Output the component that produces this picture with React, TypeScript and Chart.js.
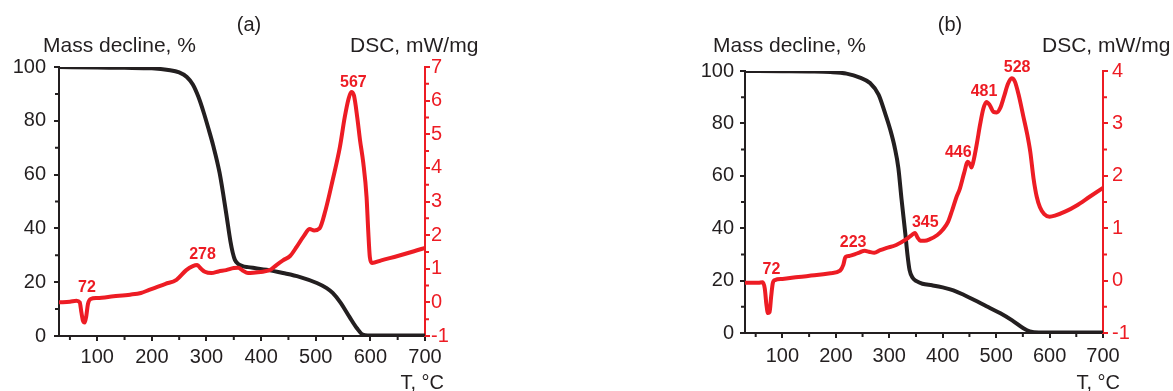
import { useEffect, useRef } from 'react';
import { Chart, registerables } from 'chart.js';

Chart.register(...registerables);

// ---------------- data ----------------
const T_MIN = 30;
const T_MAX = 700;
const T_STEP = 100;
const MASS_MIN = 0;
const MASS_MAX = 100;
const MASS_STEP = 20;
const DSC_STEP = 1;

const massAxisTitle = 'Mass decline, %';
const dscAxisTitle = 'DSC, mW/mg';
const tempAxisTitle = 'T, °C';

// Panel (a)
const panelTitleA = '(a)';
const tgTempA = [30, 100, 150, 200, 230, 250, 264, 275, 285, 295, 303, 312, 324, 336, 344, 348, 352, 358, 366, 376, 390, 410, 440, 470, 502, 520, 531, 545, 562, 575, 586, 595, 650, 700];
const tgMassA = [100, 99.8, 99.7, 99.5, 98.9, 98.0, 96.3, 93.5, 89, 83, 77.5, 71, 60.6, 45.7, 35, 31, 28.3, 26.8, 26.0, 25.6, 25.2, 24.6, 23.4, 22, 19.7, 17.8, 16, 12.5, 7, 3, 0.5, 0.2, 0.2, 0.2];
const dscTempA = [30, 50, 62, 68, 71, 74, 77, 80, 83, 88, 100, 130, 160, 180, 195, 210, 225, 245, 263, 275, 283, 290, 297, 309, 322, 336, 350, 358, 366, 376, 390, 403, 418, 428, 440, 453, 465, 478, 489, 497, 507, 518, 531, 544, 553, 560, 565, 570, 576, 581, 587, 593, 596, 599, 603, 620, 650, 680, 700];
const dscValA = [0.0, 0.02, 0.05, 0.0, -0.3, -0.55, -0.6, -0.4, -0.05, 0.1, 0.13, 0.18, 0.23, 0.28, 0.37, 0.46, 0.55, 0.67, 0.96, 1.08, 1.11, 1.0, 0.91, 0.87, 0.92, 0.96, 1.02, 1.03, 0.95, 0.87, 0.89, 0.91, 0.98, 1.11, 1.25, 1.38, 1.65, 1.97, 2.18, 2.14, 2.2, 2.75, 3.64, 4.6, 5.5, 6.05, 6.26, 6.15, 5.5, 4.83, 4.15, 3.14, 2.15, 1.35, 1.17, 1.25, 1.38, 1.52, 1.62];
const dscMinA = -1;
const dscMaxA = 7;
const peakTempA = [72, 278, 567];
const peakTextA = ['72', '278', '567'];
const peakWindowA = [20, 15, 8];

// Panel (b)
const panelTitleB = '(b)';
const tgTempB = [30, 100, 150, 190, 220, 245, 264, 280, 292, 302, 310, 317, 323, 330, 334, 338, 344, 351, 362, 380, 400, 420, 440, 465, 485, 508, 530, 551, 563, 580, 700];
const tgMassB = [100, 99.9, 99.8, 99.6, 99, 97.5, 95.4, 91, 84, 77.5, 71, 63, 51, 38, 30, 24, 21, 19.8, 18.8, 18.2, 17.4, 16.3, 14.5, 12, 9.9, 7.5, 4.8, 1.8, 0.6, 0.2, 0.2];
const dscTempB = [30, 55, 63, 67, 70, 73, 76, 79, 82, 86, 100, 130, 160, 190, 208, 214, 218, 225, 232, 245, 254, 262, 272, 283, 294, 313, 332, 342, 348, 353, 358, 366, 376, 390, 400, 410, 418, 426, 432, 440, 447, 451, 454, 458, 464, 470, 476, 482, 488, 495, 501, 508, 515, 522, 529, 535, 542, 551, 558, 564, 570, 576, 582, 590, 600, 610, 630, 650, 675, 700];
const dscValB = [-0.04, -0.04, -0.03, -0.15, -0.45, -0.62, -0.6, -0.3, -0.05, 0.01, 0.03, 0.07, 0.1, 0.14, 0.19, 0.3, 0.45, 0.47, 0.49, 0.54, 0.57, 0.55, 0.53, 0.58, 0.62, 0.68, 0.79, 0.87, 0.91, 0.82, 0.76, 0.76, 0.79, 0.87, 0.97, 1.12, 1.35, 1.6, 1.75, 2.05, 2.27, 2.22, 2.16, 2.3, 2.62, 2.98, 3.28, 3.41, 3.35, 3.22, 3.21, 3.3, 3.52, 3.75, 3.86, 3.8, 3.55, 3.13, 2.8, 2.45, 1.95, 1.6, 1.4, 1.27, 1.22, 1.24, 1.32, 1.43, 1.6, 1.77];
const dscMinB = -1;
const dscMaxB = 4;
const peakTempB = [72, 223, 345, 446, 481, 528];
const peakTextB = ['72', '223', '345', '446', '481', '528'];
const peakWindowB = [20, 20, 15, 6, 6, 6];

// ---------------- style / layout ----------------
const RED = '#ED1C24';
const INK = '#231F20';
const FONT = "'Liberation Sans', Arial, Helvetica, sans-serif";
const HEIGHT = 391;
const MAJOR = 5;
const MINOR = 3;

type Spec = {
  title: string;
  tgT: number[]; tgM: number[]; dT: number[]; dV: number[];
  dMin: number; dMax: number;
  pT: number[]; pText: string[]; pWin: number[];
  box: {
    left: number; width: number; axisLeft: number; axisRight: number; top: number; bottom: number;
    xPad: number; yPad: number; y1Pad: number;
    titleX: number; massX: number; dscX: number; tRight: number;
    dx: number[]; dy: number[];
  };
};

const specA: Spec = {
  title: panelTitleA, tgT: tgTempA, tgM: tgMassA, dT: dscTempA, dV: dscValA,
  dMin: dscMinA, dMax: dscMaxA, pT: peakTempA, pText: peakTextA, pWin: peakWindowA,
  box: {
    left: 0, width: 586, axisLeft: 59, axisRight: 425, top: 67, bottom: 336,
    xPad: 4, yPad: 8, y1Pad: 1,
    titleX: 249, massX: 43, dscX: 350, tRight: 444,
    dx: [5, 8, 1], dy: [-7, -6, -5],
  },
};

const specB: Spec = {
  title: panelTitleB, tgT: tgTempB, tgM: tgMassB, dT: dscTempB, dV: dscValB,
  dMin: dscMinB, dMax: dscMaxB, pT: peakTempB, pText: peakTextB, pWin: peakWindowB,
  box: {
    left: 586, width: 587, axisLeft: 159, axisRight: 517, top: 71, bottom: 333,
    xPad: 6, yPad: 6, y1Pad: 4,
    titleX: 364, massX: 127, dscX: 456, tRight: 534,
    dx: [4, 5, 12, -9, -2, 6], dy: [-6, -8, -6, -5, -6, -6],
  },
};

function makeOverlay(s: Spec) {
  return {
    id: 'overlay',
    afterDatasetsDraw(chart: any) {
      const ctx: CanvasRenderingContext2D = chart.ctx;
      const { x, y, y1 } = chart.scales;
      const a = chart.chartArea;
      ctx.save();
      // minor ticks
      ctx.lineWidth = 2;
      ctx.strokeStyle = INK;
      ctx.beginPath();
      for (let v = T_STEP / 2; v < T_MAX; v += T_STEP) {
        if (v < T_MIN) continue;
        const px = x.getPixelForValue(v);
        ctx.moveTo(px, a.bottom);
        ctx.lineTo(px, a.bottom + MINOR + 1);
      }
      for (let v = MASS_STEP / 2; v < MASS_MAX; v += MASS_STEP) {
        const py = y.getPixelForValue(v);
        ctx.moveTo(a.left, py);
        ctx.lineTo(a.left - MINOR - 1, py);
      }
      ctx.stroke();
      ctx.strokeStyle = RED;
      ctx.beginPath();
      for (let v = s.dMin + DSC_STEP / 2; v < s.dMax; v += DSC_STEP) {
        const py = y1.getPixelForValue(v);
        ctx.moveTo(a.right, py);
        ctx.lineTo(a.right + MINOR + 1, py);
      }
      ctx.stroke();

      // titles
      ctx.fillStyle = INK;
      ctx.textBaseline = 'alphabetic';
      ctx.font = `20px ${FONT}`;
      ctx.textAlign = 'center';
      ctx.fillText(s.title, s.box.titleX, 31);
      ctx.font = `21px ${FONT}`;
      ctx.textAlign = 'left';
      ctx.fillText(massAxisTitle, s.box.massX, 52);
      ctx.fillText(dscAxisTitle, s.box.dscX, 52);
      ctx.font = `20px ${FONT}`;
      ctx.textAlign = 'right';
      ctx.fillText(tempAxisTitle, s.box.tRight, 389);

      // peak labels
      ctx.fillStyle = RED;
      ctx.font = `bold 16px ${FONT}`;
      ctx.textAlign = 'center';
      s.pT.forEach((T, i) => {
        let best = -Infinity;
        s.dT.forEach((t, j) => {
          if (Math.abs(t - T) <= s.pWin[i]) best = Math.max(best, s.dV[j]);
        });
        const px = x.getPixelForValue(T) + s.box.dx[i];
        const py = y1.getPixelForValue(best) + s.box.dy[i];
        ctx.fillText(s.pText[i], px, py);
      });
      ctx.restore();
    },
  };
}

function buildConfig(s: Spec): any {
  const b = s.box;
  const tickFont = { family: FONT, size: 20 };
  return {
    type: 'line',
    data: {
      datasets: [
        {
          label: 'TG',
          data: s.tgT.map((t, i) => ({ x: t, y: s.tgM[i] })),
          yAxisID: 'y',
          borderColor: INK,
          borderWidth: 4,
          pointRadius: 0,
          cubicInterpolationMode: 'monotone',
          borderJoinStyle: 'round',
          borderCapStyle: 'round',
          fill: false,
          order: 2,
        },
        {
          label: 'DSC',
          data: s.dT.map((t, i) => ({ x: t, y: s.dV[i] })),
          yAxisID: 'y1',
          borderColor: RED,
          borderWidth: 4,
          pointRadius: 0,
          cubicInterpolationMode: 'monotone',
          borderJoinStyle: 'round',
          borderCapStyle: 'round',
          fill: false,
          order: 1,
        },
      ],
    },
    options: {
      animation: false,
      responsive: false,
      devicePixelRatio: 1,
      events: [],
      layout: { padding: { left: 0, right: 0, top: b.top, bottom: 0 } },
      plugins: { legend: { display: false }, tooltip: { enabled: false }, title: { display: false } },
      scales: {
        x: {
          type: 'linear',
          min: T_MIN,
          max: T_MAX,
          ticks: { stepSize: T_STEP, includeBounds: false, autoSkip: false, maxRotation: 0, color: INK, font: tickFont, padding: b.xPad },
          grid: { drawOnChartArea: false, drawTicks: true, tickLength: MAJOR, color: INK, lineWidth: 2 },
          border: { display: true, color: INK, width: 2 },
          afterFit: (sc: any) => { sc.height = HEIGHT - b.bottom; },
        },
        y: {
          type: 'linear',
          position: 'left',
          min: MASS_MIN,
          max: MASS_MAX,
          ticks: { stepSize: MASS_STEP, color: INK, font: tickFont, padding: b.yPad },
          grid: { drawOnChartArea: false, drawTicks: true, tickLength: MAJOR, color: INK, lineWidth: 2 },
          border: { display: true, color: INK, width: 2 },
          afterFit: (sc: any) => { sc.width = b.axisLeft; },
        },
        y1: {
          type: 'linear',
          position: 'right',
          min: s.dMin,
          max: s.dMax,
          ticks: { stepSize: DSC_STEP, color: RED, font: tickFont, padding: b.y1Pad },
          grid: { drawOnChartArea: false, drawTicks: true, tickLength: MAJOR, color: RED, lineWidth: 2 },
          border: { display: true, color: RED, width: 2 },
          afterFit: (sc: any) => { sc.width = b.width - b.axisRight; },
        },
      },
    },
    plugins: [makeOverlay(s)],
  };
}

function Panel({ s }: { s: Spec }) {
  const ref = useRef<HTMLCanvasElement>(null);
  useEffect(() => {
    if (!ref.current) return;
    const chart = new Chart(ref.current, buildConfig(s));
    return () => chart.destroy();
  }, [s]);
  return (
    <canvas
      ref={ref}
      width={s.box.width}
      height={HEIGHT}
      style={{ position: 'absolute', left: s.box.left, top: 0, width: s.box.width, height: HEIGHT }}
    />
  );
}

export default function App() {
  return (
    <div style={{ position: 'fixed', left: 0, top: 0, width: 1173, height: HEIGHT, background: '#fff', overflow: 'hidden' }}>
      <Panel s={specA} />
      <Panel s={specB} />
    </div>
  );
}
